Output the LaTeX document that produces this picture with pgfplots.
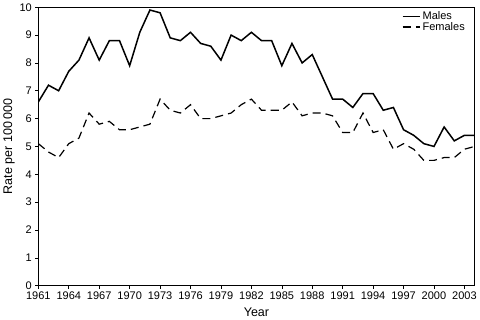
\documentclass[border=0pt]{standalone}
\usepackage{pgfplots}
\pgfplotsset{compat=1.18}
\usepackage{fontspec}
\setmainfont{Liberation Sans}
\begin{document}
\begin{tikzpicture}
\begin{axis}[
  scale only axis,
  width=434bp, height=277bp,
  xmin=1961, xmax=2004,
  ymin=0, ymax=10,
  xtick={1961,1964,...,2003},
  ytick={0,1,...,10},
  xticklabel style={/pgf/number format/1000 sep={}},
  /pgf/number format/assume math mode=true,
  tick label style={font=\fontsize{11}{13}\selectfont},
  label style={font=\fontsize{12.5}{14}\selectfont},
  xlabel={Year},
  ylabel={Rate per 100\,000},
  xlabel style={yshift=-1bp},
  ylabel style={yshift=-2bp},
  tick align=outside,
  tick pos=left,
  major tick length=3bp,
  axis line style={line width=0.8bp},
  every tick/.style={black, line width=0.6bp},
  legend style={draw=none, fill=none, at={(rel axis cs:0.985,0.995)}, anchor=north east,
    font=\fontsize{11}{12}\selectfont, row sep=-3bp, inner sep=1bp},
  legend cell align=left,
]
\addplot[black, line width=1.5bp] coordinates {
(1961,6.6) (1962,7.2) (1963,7.0) (1964,7.7) (1965,8.1) (1966,8.9) (1967,8.1) (1968,8.8)
(1969,8.8) (1970,7.9) (1971,9.1) (1972,9.9) (1973,9.8) (1974,8.9) (1975,8.8) (1976,9.1)
(1977,8.7) (1978,8.6) (1979,8.1) (1980,9.0) (1981,8.8) (1982,9.1) (1983,8.8) (1984,8.8)
(1985,7.9) (1986,8.7) (1987,8.0) (1988,8.3) (1989,7.5) (1990,6.7) (1991,6.7) (1992,6.4)
(1993,6.9) (1994,6.9) (1995,6.3) (1996,6.4) (1997,5.6) (1998,5.4) (1999,5.1) (2000,5.0)
(2001,5.7) (2002,5.2) (2003,5.4) (2004,5.4)
};
\addlegendentry{Males}
\addplot[black, line width=1.2bp, dash pattern=on 8bp off 5bp] coordinates {
(1961,5.1) (1962,4.8) (1963,4.6) (1964,5.1) (1965,5.3) (1966,6.2) (1967,5.8) (1968,5.9)
(1969,5.6) (1970,5.6) (1971,5.7) (1972,5.8) (1973,6.7) (1974,6.3) (1975,6.2) (1976,6.5)
(1977,6.0) (1978,6.0) (1979,6.1) (1980,6.2) (1981,6.5) (1982,6.7) (1983,6.3) (1984,6.3)
(1985,6.3) (1986,6.6) (1987,6.1) (1988,6.2) (1989,6.2) (1990,6.1) (1991,5.5) (1992,5.5)
(1993,6.2) (1994,5.5) (1995,5.6) (1996,4.9) (1997,5.1) (1998,4.9) (1999,4.5) (2000,4.5)
(2001,4.6) (2002,4.6) (2003,4.9) (2004,5.0)
};
\addlegendentry{Females}
\end{axis}
\end{tikzpicture}
\end{document}
